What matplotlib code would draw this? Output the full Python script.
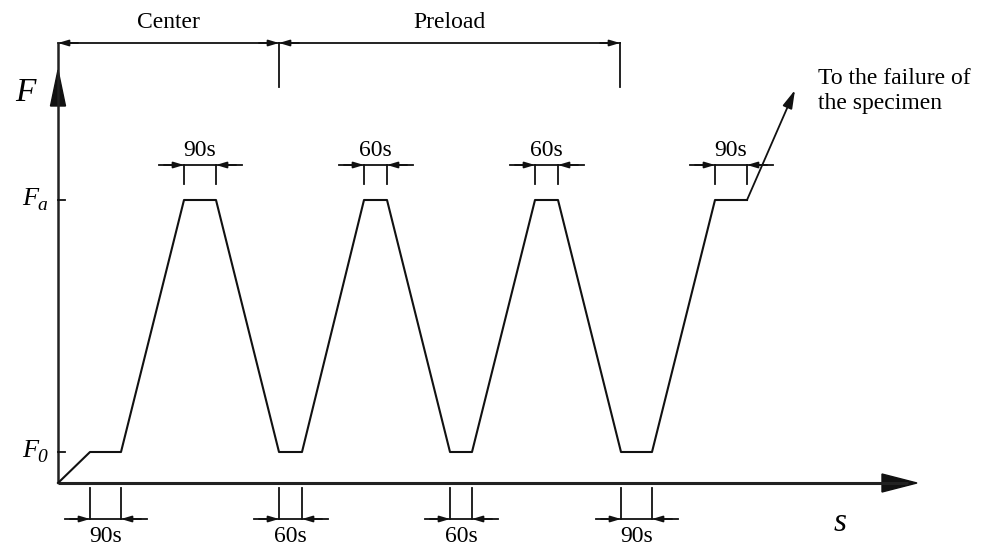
import matplotlib.pyplot as plt
from matplotlib.patches import Polygon

plt.rcParams["font.family"] = ["Liberation Serif", "DejaVu Serif"]

# force levels (schematic units)
F0 = 31
FA = 283

# loading history: time breakpoints and force
t_wave = [0, 32, 63, 126, 158, 221, 244, 306, 329, 392, 414, 477, 500, 563, 594, 657, 689]
f_wave = [0, F0, F0, FA, FA, F0, F0, FA, FA, F0, F0, FA, FA, F0, F0, FA, FA]
t_fail, f_fail = 737, 393

# holding stages
peak_holds = [(126, 158), (306, 329), (477, 500), (657, 689)]
peak_labels = ["90s", "60s", "60s", "90s"]
trough_holds = [(32, 63), (221, 244), (392, 414), (563, 594)]
trough_labels = ["90s", "60s", "60s", "90s"]

# phases on top
phase_bounds = [0, 221, 562]
phase_labels = ["Center", "Preload"]

ink = "#111111"
fig = plt.figure(figsize=(9.89, 5.47), dpi=100)
ax = fig.add_axes([0, 0, 1, 1])
ax.set_xlim(-58, 931)
ax.set_ylim(-64, 483)
ax.axis("off")


def head(ax, tip, tail, hl=0.6, hw=0.18):
    ax.annotate("", xy=tip, xytext=tail,
                arrowprops=dict(arrowstyle=f"-|>,head_length={hl},head_width={hw}",
                                color=ink, lw=1.3, shrinkA=0, shrinkB=0))


# axes
ax.plot([0, 0], [0, 440], color="#222222", lw=1.8, solid_capstyle="butt")
ax.plot([0, 850], [0, 0], color="#222222", lw=2.2, solid_capstyle="butt")
ax.add_patch(Polygon([[0, 413], [-7.5, 377], [7.5, 377]], closed=True, color=ink))
ax.add_patch(Polygon([[859, 0], [824, 9], [824, -9]], closed=True, color=ink))
ax.text(-33, 390, "F", fontsize=24, style="italic", ha="center", va="center")
ax.text(782, -40, "s", fontsize=24, style="italic", ha="center", va="center")

# level ticks
for lvl, sub in [(FA, "a"), (F0, "0")]:
    ax.plot([0, 7], [lvl, lvl], color=ink, lw=1.3)
    ax.text(-28, lvl + 1, "F", fontsize=19, style="italic", ha="center", va="center")
    ax.text(-16, lvl - 5, sub, fontsize=14, style="italic", ha="center", va="center")

# waveform
ax.plot(t_wave, f_wave, color=ink, lw=1.5)
head(ax, (t_fail, f_fail), (t_wave[-1], f_wave[-1]), hl=1.1, hw=0.3)
ax.text(760, 392, "To the failure of\nthe specimen", fontsize=17, ha="left",
        va="center", linespacing=1.3)

# phase brackets
ytop = 440
ax.plot([phase_bounds[0], phase_bounds[-1]], [ytop, ytop], color=ink, lw=1.3)
for xb in phase_bounds[1:]:
    ax.plot([xb, xb], [ytop, ytop - 44], color=ink, lw=1.3)
for (a, b), lab in zip(zip(phase_bounds[:-1], phase_bounds[1:]), phase_labels):
    head(ax, (a, ytop), (a + 20, ytop))
    head(ax, (b, ytop), (b - 20, ytop))
    ax.text((a + b) / 2, ytop + 20, lab, fontsize=17, ha="center", va="center")

# hold dimensions at peaks
ydim = 318
for (a, b), lab in zip(peak_holds, peak_labels):
    ax.plot([a - 25, b + 26], [ydim, ydim], color=ink, lw=1.3)
    for xb in (a, b):
        ax.plot([xb, xb], [ydim, ydim - 19], color=ink, lw=1.3)
    head(ax, (a, ydim), (a - 20, ydim))
    head(ax, (b, ydim), (b + 20, ydim))
    ax.text((a + b) / 2, ydim + 14, lab, fontsize=17, ha="center", va="center")

# hold dimensions at troughs
ydim = -36
for (a, b), lab in zip(trough_holds, trough_labels):
    ax.plot([a - 25, b + 26], [ydim, ydim], color=ink, lw=1.3)
    for xb in (a, b):
        ax.plot([xb, xb], [-5, ydim], color=ink, lw=1.3)
    head(ax, (a, ydim), (a - 20, ydim))
    head(ax, (b, ydim), (b + 20, ydim))
    ax.text((a + b) / 2, ydim - 17, lab, fontsize=17, ha="center", va="center")

fig.savefig("out.png", dpi=100, facecolor="white")
